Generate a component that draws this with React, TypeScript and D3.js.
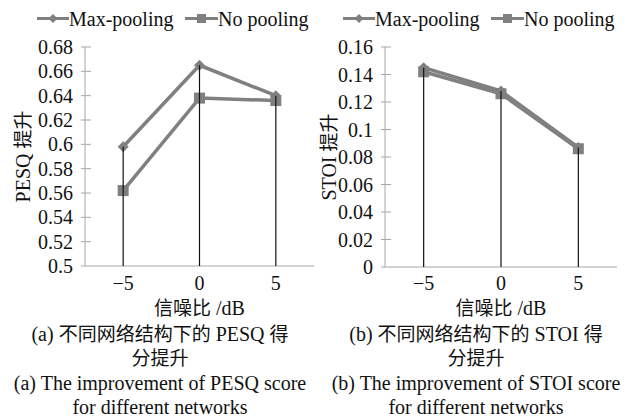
import React from 'react';
import * as d3 from 'd3';

// SNR categories (dB) on the x axis
const snrLevels = ['-5', '0', '5'];
const seriesNames = ['Max-pooling', 'No pooling'];

// PESQ improvement
const pesqMaxPooling = [0.598, 0.665, 0.640];
const pesqNoPooling = [0.562, 0.638, 0.636];
const pesqTicks = [0.5, 0.52, 0.54, 0.56, 0.58, 0.6, 0.62, 0.64, 0.66, 0.68];

// STOI improvement
const stoiMaxPooling = [0.145, 0.128, 0.087];
const stoiNoPooling = [0.142, 0.126, 0.086];
const stoiTicks = [0, 0.02, 0.04, 0.06, 0.08, 0.1, 0.12, 0.14, 0.16];

const captionsA = ['(a) 不同网络结构下的 PESQ 得', '分提升', '(a) The improvement of PESQ score', 'for different networks'];
const captionsB = ['(b) 不同网络结构下的 STOI 得', '分提升', '(b) The improvement of STOI score', 'for different networks'];

const FONT = '"Liberation Serif", "Times New Roman", "Noto Sans CJK SC", serif';
const SERIES_COLOR = '#808080';
const AXIS_COLOR = '#a6a6a6';
const TEXT_COLOR = '#111';

// chinese glyphs come out a bit wider than the song face in the original, shrink them a touch
const Mixed: React.FC<{ text: string }> = ({ text }) => (
  <>
    {(text.match(/[\u4e00-\u9fff]+|[^\u4e00-\u9fff]+/g) || []).map((run, i) => (
      <tspan key={i} fontSize={/[\u4e00-\u9fff]/.test(run) ? 19 : 20}>{run}</tspan>
    ))}
  </>
);

interface PanelProps {
  left: number;       // y axis x position
  right: number;      // end of x axis
  top: number;
  bottom: number;
  ticks: number[];
  maxPooling: number[];
  noPooling: number[];
  yLabel: string;
  yLabelX: number;
  legendX: number;
  captions: string[];
  captionX: number;
}

const Diamond: React.FC<{ x: number; y: number; r: number }> = ({ x, y, r }) => (
  <path d={`M${x},${y - r}L${x + r},${y}L${x},${y + r}L${x - r},${y}Z`} fill={SERIES_COLOR} />
);

const Square: React.FC<{ x: number; y: number; s: number }> = ({ x, y, s }) => (
  <rect x={x - s / 2} y={y - s / 2} width={s} height={s} fill={SERIES_COLOR} />
);

const Panel: React.FC<PanelProps> = (p) => {
  const x = d3.scalePoint<string>().domain(snrLevels).range([p.left, p.right]).padding(0.5);
  const y = d3.scaleLinear()
    .domain([p.ticks[0], p.ticks[p.ticks.length - 1]])
    .range([p.bottom, p.top]);

  const line = d3.line<number>()
    .x((_, i) => x(snrLevels[i])!)
    .y(d => y(d));

  const fmt = (v: number) => String(+v.toFixed(2));
  const cx = (p.left + p.right) / 2;
  const lg = p.legendX;

  return (
    <g fontFamily={FONT} fill={TEXT_COLOR}>
      {/* legend */}
      <g fontSize={20}>
        <line x1={lg} x2={lg + 32} y1={18.5} y2={18.5} stroke={SERIES_COLOR} strokeWidth={3} />
        <Diamond x={lg + 16} y={18.5} r={4.5} />
        <text x={lg + 32} y={26}>{seriesNames[0]}</text>
        <line x1={lg + 148} x2={lg + 181} y1={18.5} y2={18.5} stroke={SERIES_COLOR} strokeWidth={3} />
        <Square x={lg + 164.5} y={18.5} s={9} />
        <text x={lg + 181} y={26}>{seriesNames[1]}</text>
      </g>

      {/* axes */}
      <line x1={p.left} x2={p.left} y1={p.top} y2={p.bottom} stroke={AXIS_COLOR} strokeWidth={1} />
      <line x1={p.left - 4} x2={p.right} y1={p.bottom} y2={p.bottom} stroke={AXIS_COLOR} strokeWidth={1} />
      {p.ticks.map(t => (
        <g key={t}>
          {t !== p.ticks[0] && (
            <line x1={p.left - 4} x2={p.left + 6} y1={y(t)} y2={y(t)} stroke={AXIS_COLOR} strokeWidth={1} />
          )}
          <text x={p.left - 12} y={y(t)} dy="0.35em" textAnchor="end" fontSize={20}>{fmt(t)}</text>
        </g>
      ))}
      {snrLevels.map(s => (
        <text key={s} x={x(s)} y={290} textAnchor="middle" fontSize={20}>{s.replace('-', '−')}</text>
      ))}

      {/* series */}
      <path d={line(p.maxPooling)!} fill="none" stroke={SERIES_COLOR} strokeWidth={3.5} strokeLinejoin="round" />
      {p.maxPooling.map((v, i) => <Diamond key={i} x={x(snrLevels[i])!} y={y(v)} r={5.5} />)}
      <path d={line(p.noPooling)!} fill="none" stroke={SERIES_COLOR} strokeWidth={3.5} strokeLinejoin="round" />
      {p.noPooling.map((v, i) => <Square key={i} x={x(snrLevels[i])!} y={y(v)} s={11} />)}

      {/* drop lines */}
      {snrLevels.map((s, i) => (
        <line key={s} x1={x(s)} x2={x(s)} y1={p.bottom} y2={y(Math.max(p.maxPooling[i], p.noPooling[i]))}
          stroke="#111" strokeWidth={1.2} />
      ))}

      {/* titles */}
      <text transform={`translate(${p.yLabelX},${(p.top + p.bottom) / 2}) rotate(-90)`} dy="0.35em"
        textAnchor="middle" fontSize={20}><Mixed text={p.yLabel} /></text>
      <text x={cx} y={315} textAnchor="middle" fontSize={20}><Mixed text="信噪比 /dB" /></text>
      {p.captions.map((c, i) => (
        <text key={i} x={p.captionX} y={[341, 365, 390, 414][i]} textAnchor="middle" fontSize={20}>
          <Mixed text={c} />
        </text>
      ))}
    </g>
  );
};

const App: React.FC = () => (
  <svg width={630} height={417} style={{ position: 'absolute', left: 0, top: 0, background: '#fff' }}>
    <rect width={630} height={417} fill="#fff" />
    <Panel left={85} right={314} top={47} bottom={266} ticks={pesqTicks}
      maxPooling={pesqMaxPooling} noPooling={pesqNoPooling} yLabel="PESQ 提升" yLabelX={23}
      legendX={37} captions={captionsA} captionX={160} />
    <Panel left={385} right={617} top={47} bottom={267} ticks={stoiTicks}
      maxPooling={stoiMaxPooling} noPooling={stoiNoPooling} yLabel="STOI 提升" yLabelX={329}
      legendX={343} captions={captionsB} captionX={476} />
  </svg>
);

export default App;
